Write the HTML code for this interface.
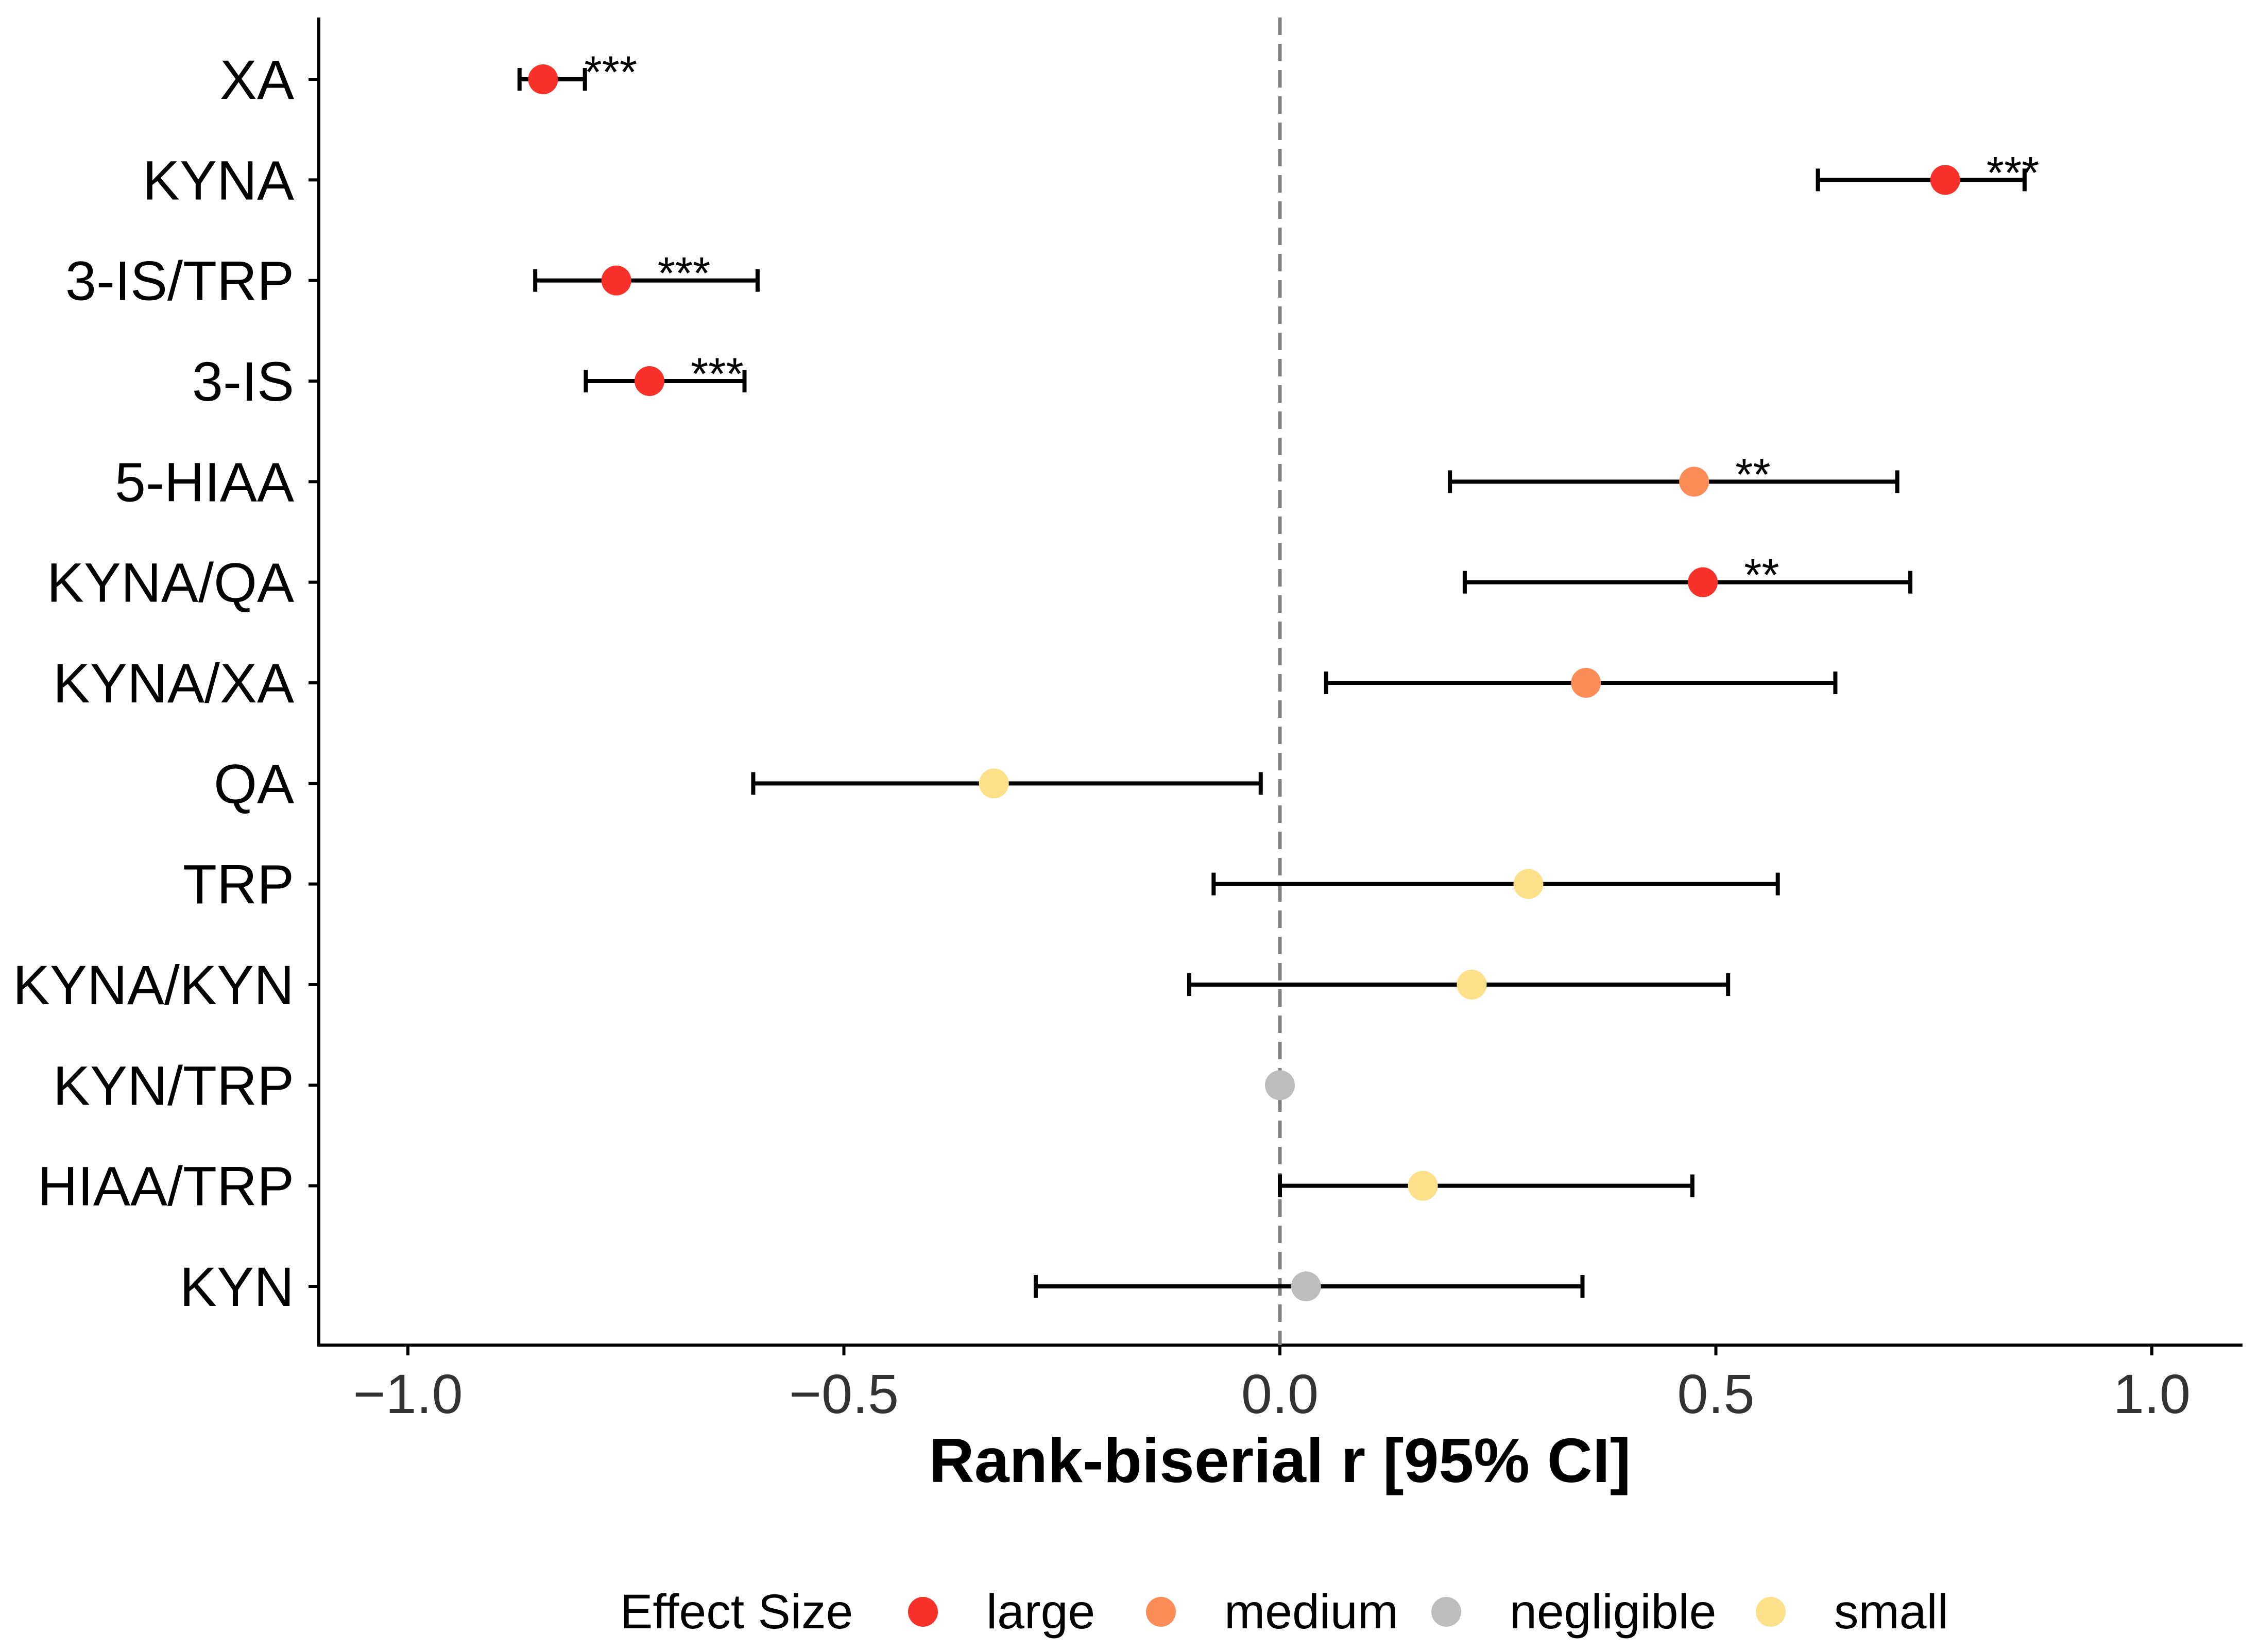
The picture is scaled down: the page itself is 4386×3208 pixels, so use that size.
<!DOCTYPE html>
<html><head><meta charset="utf-8"><style>
html,body{margin:0;padding:0;background:#fff}
svg{display:block;font-family:"Liberation Sans",Arial,sans-serif}
</style></head><body>
<svg id="chart" width="4386" height="3208" viewBox="0 0 4386 3208" xmlns="http://www.w3.org/2000/svg">
<rect width="4386" height="3208" fill="#fff"/>
<g id="plot"></g>
</svg>
<script>
const categories=["XA","KYNA","3-IS/TRP","3-IS","5-HIAA","KYNA/QA","KYNA/XA","QA","TRP","KYNA/KYN","KYN/TRP","HIAA/TRP","KYN"];
const estimates=[-0.845,0.763,-0.761,-0.723,0.475,0.485,0.351,-0.328,0.285,0.220,0.0,0.164,0.03];
const lowerCI=[-0.872,0.617,-0.854,-0.796,0.195,0.212,0.053,-0.604,-0.076,-0.104,0.0,0.0,-0.28];
const upperCI=[-0.797,0.854,-0.599,-0.614,0.708,0.723,0.637,-0.022,0.571,0.514,0.0,0.473,0.347];
const effectSizes=["large","large","large","large","medium","large","medium","small","small","small","negligible","small","negligible"];
const significance=["***","***","***","***","**","**","","","","","","",""];
const xTicks=[-1.0,-0.5,0.0,0.5,1.0];
const xTickLabels=["\u22121.0","\u22120.5","0.0","0.5","1.0"];
const legendLevels=["large","medium","negligible","small"];

const colors={large:"#F8312A",medium:"#FC8D59",negligible:"#BDBDBD",small:"#FEE08B"};
const NS="http://www.w3.org/2000/svg";
const g=document.getElementById('plot');
const x=v=>2485+v*1693;
const y=i=>154+i*(2498-154)/12;
function el(t,a,txt){const e=document.createElementNS(NS,t);for(const k in a)e.setAttribute(k,a[k]);if(txt!==undefined)e.textContent=txt;g.appendChild(e);return e;}

let e=el('line',{x1:619,y1:34,x2:619,y2:2615,stroke:'#000','stroke-width':6});


e=el('line',{x1:616,y1:2612,x2:4354,y2:2612,stroke:'#000','stroke-width':6});


e=el('line',{x1:x(0),y1:34,x2:x(0),y2:2612,stroke:'#808080','stroke-width':7,'stroke-dasharray':'34 17'});



xTicks.forEach((t,i)=>{
  let tk=el('line',{x1:x(t),y1:2612,x2:x(t),y2:2632,stroke:'#000','stroke-width':6});
  
  
  let lb=el('text',{x:x(t),y:2744,'text-anchor':'middle','font-size':108,fill:'#333'},xTickLabels[i]);
  
  
});

categories.forEach((c,i)=>{
  const yy=y(i);
  let tk=el('line',{x1:599,y1:yy,x2:619,y2:yy,stroke:'#000','stroke-width':6});
  
  
  let lb=el('text',{x:571,y:yy+38,'text-anchor':'end','font-size':108,fill:'#000'},c);
  
  
  if(upperCI[i]!==lowerCI[i]){
    let l=el('line',{x1:x(lowerCI[i]),y1:yy,x2:x(upperCI[i]),y2:yy,stroke:'#000','stroke-width':8});
    
    
    [lowerCI[i],upperCI[i]].forEach(v=>{
      let cp=el('line',{x1:x(v),y1:yy-22,x2:x(v),y2:yy+22,stroke:'#000','stroke-width':8});
      
      
    });
  }
  let p=el('circle',{cx:x(estimates[i]),cy:yy,r:29,fill:colors[effectSizes[i]]});
  
  
  if(significance[i]){
    let s=el('text',{x:x(estimates[i])+80,y:yy+16,'font-size':88,fill:'#000'},significance[i]);
    
    
  }
});

e=el('text',{x:2485,y:2878,'text-anchor':'middle','font-size':122,'font-weight':'bold',fill:'#000'},'Rank-biserial r [95% CI]');



e=el('text',{x:1204,y:3162,'font-size':95,fill:'#000'},'Effect Size');


const lx=[1792,2254,2808,3438];
legendLevels.forEach((lv,i)=>{
  let d=el('circle',{cx:lx[i],cy:3130,r:29,fill:colors[lv]});
  
  
  let t=el('text',{x:lx[i]+123,y:3162,'font-size':95,fill:'#000'},lv);
  
  
});
</script>
</body></html>
